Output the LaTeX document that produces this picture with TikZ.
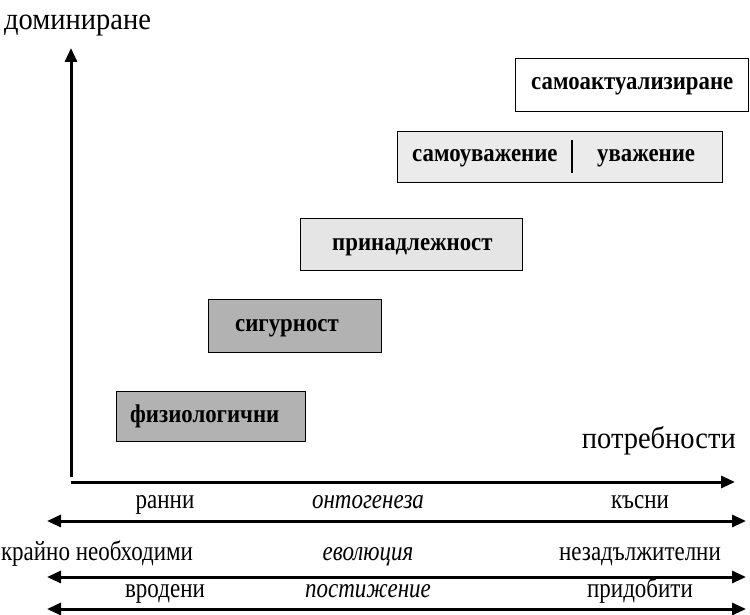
\documentclass[tikz,border=0pt]{standalone}
\usepackage{fontspec}
\setmainfont{Liberation Serif}
\usetikzlibrary{arrows.meta}
\newcommand\vst[2]{\scalebox{1}[#1]{#2}}
\begin{document}
\begin{tikzpicture}[x=1pt,y=-1pt,
  axis/.style={line width=3pt,-{Triangle[length=14pt,width=12pt]}},
  dbl/.style={line width=3pt,{Triangle[length=14pt,width=12pt]}-{Triangle[length=14pt,width=12pt]}},
  box/.style={draw=black,line width=1pt,inner sep=0pt,anchor=north west},
  lbl/.style={font=\fontsize{22.8}{24}\selectfont\bfseries,anchor=base west,inner sep=0pt},
  big/.style={font=\fontsize{28.5}{30}\selectfont,inner sep=0pt},
  txt/.style={font=\fontsize{23}{26}\selectfont,inner sep=0pt,anchor=base},
  itx/.style={font=\fontsize{23}{26}\selectfont\itshape,inner sep=0pt,anchor=base}]
\useasboundingbox (0,0) rectangle (750,615);
% axes
\coordinate (O) at (71,482);
\coordinate (Ybot) at (71,477);
\coordinate (Ytop) at (71,48);
\coordinate (Xend) at (735,482);
\draw[axis] (Ybot) -- (Ytop);
\draw[axis] (O) -- (Xend);
\node[big,anchor=base west] (dom) at (4,30) {\vst{1.08}{доминиране}};
\node[big,anchor=base east] (potr) at (736,448) {\vst{1.08}{потребности}};
% boxes
\node[box,fill=black!30,minimum width=189pt,minimum height=50pt] (b1) at (116,391) {};
\node[lbl] (t1) at (130,422) {\vst{1.12}{физиологични}};
\node[box,fill=black!30,minimum width=173pt,minimum height=53pt] (b2) at (208,299) {};
\node[lbl] (t2) at (235,331) {\vst{1.12}{сигурност}};
\node[box,fill=black!10,minimum width=222pt,minimum height=52pt] (b3) at (300,218) {};
\node[lbl] (t3) at (332,250) {\vst{1.12}{принадлежност}};
\node[box,fill=black!8,minimum width=325pt,minimum height=51pt] (b4) at (397,131) {};
\node[lbl] (t4a) at (412,162) {\vst{1.12}{самоуважение}};
\node[lbl] (t4b) at (597,162) {\vst{1.12}{уважение}};
\coordinate (d1) at (572,140);
\coordinate (d2) at (572,173);
\draw[line width=1.2pt] (d1) -- (d2);
\node[box,fill=white,minimum width=233pt,minimum height=53pt] (b5) at (515,58) {};
\node[lbl] (t5) at (531,90) {\vst{1.12}{самоактуализиране}};
% double arrows
\coordinate (a1l) at (47,521); \coordinate (a1r) at (746,521);
\coordinate (a2l) at (47,577); \coordinate (a2r) at (746,577);
\coordinate (a3l) at (47,609); \coordinate (a3r) at (746,609);
\draw[dbl] (a1l) -- (a1r);
\draw[dbl] (a2l) -- (a2r);
\draw[dbl] (a3l) -- (a3r);
% labels
\node[txt] (r1a) at (165,508) {\vst{1.2}{ранни}};
\node[itx] (r1b) at (368,508) {\vst{1.2}{онтогенеза}};
\node[txt] (r1c) at (640,508) {\vst{1.2}{късни}};
\node[txt] (r2a) at (97,560) {\vst{1.2}{крайно необходими}};
\node[itx] (r2b) at (368,560) {\vst{1.2}{еволюция}};
\node[txt] (r2c) at (640,560) {\vst{1.2}{незадължителни}};
\node[txt] (r3a) at (165,597) {\vst{1.2}{вродени}};
\node[itx] (r3b) at (368,597) {\vst{1.2}{постижение}};
\node[txt] (r3c) at (640,597) {\vst{1.2}{придобити}};
\end{tikzpicture}
\end{document}
